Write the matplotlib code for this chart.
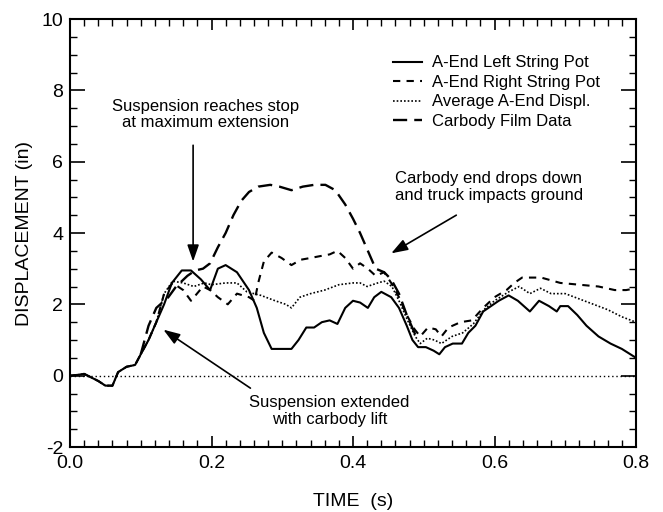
import numpy as np
import matplotlib.pyplot as plt
from matplotlib.ticker import MultipleLocator

plt.rcParams['font.family'] = ['Liberation Sans', 'DejaVu Sans']
plt.rcParams['axes.unicode_minus'] = False

# ── data ──────────────────────────────────────────────────────────────────────
early_t = [0.0, 0.01, 0.02, 0.03, 0.04, 0.05, 0.06, 0.068, 0.08, 0.092, 0.1, 0.111, 0.122]
early_d = [0.0, 0.02, 0.05, -0.05, -0.15, -0.28, -0.28, 0.1, 0.25, 0.3, 0.6, 1.0, 1.5]

left_t = early_t + [0.133, 0.144, 0.158, 0.171, 0.185, 0.198, 0.209, 0.22, 0.236, 0.253,
                    0.264, 0.274, 0.285, 0.313, 0.323, 0.334, 0.345, 0.356, 0.367, 0.378,
                    0.389, 0.4, 0.41, 0.421, 0.43, 0.44, 0.454, 0.465, 0.476, 0.484,
                    0.492, 0.503, 0.514, 0.522, 0.53, 0.541, 0.554, 0.563, 0.573, 0.584,
                    0.595, 0.606, 0.62, 0.633, 0.65, 0.663, 0.677, 0.688, 0.693, 0.704,
                    0.717, 0.73, 0.747, 0.764, 0.78, 0.8]
left_d = early_d + [2.0, 2.6, 2.95, 2.95, 2.7, 2.4, 3.0, 3.1, 2.9, 2.4,
                    1.9, 1.2, 0.75, 0.75, 1.0, 1.35, 1.35, 1.5, 1.55, 1.45,
                    1.9, 2.1, 2.05, 1.9, 2.2, 2.35, 2.2, 1.9, 1.4, 1.0,
                    0.8, 0.8, 0.7, 0.6, 0.8, 0.9, 0.9, 1.2, 1.4, 1.8,
                    1.95, 2.1, 2.25, 2.1, 1.8, 2.1, 1.95, 1.8, 1.95, 1.95,
                    1.7, 1.4, 1.1, 0.9, 0.75, 0.5]

right_t = early_t + [0.133, 0.145, 0.16, 0.171, 0.188, 0.198, 0.209, 0.223, 0.236, 0.253,
                     0.261, 0.266, 0.274, 0.285, 0.299, 0.313, 0.326, 0.34, 0.353, 0.367,
                     0.378, 0.389, 0.4, 0.41, 0.421, 0.432, 0.444, 0.454, 0.465, 0.476,
                     0.487, 0.495, 0.506, 0.517, 0.525, 0.535, 0.552, 0.568, 0.584, 0.6,
                     0.617, 0.628, 0.639, 0.666, 0.693, 0.72, 0.747, 0.77, 0.786, 0.8]
right_d = early_d + [2.3, 2.6, 2.4, 2.1, 2.5, 2.4, 2.2, 2.0, 2.3, 2.2,
                     2.1, 2.6, 3.2, 3.45, 3.3, 3.1, 3.25, 3.3, 3.35, 3.4,
                     3.5, 3.3, 3.0, 3.15, 3.0, 2.8, 2.9, 2.6, 2.2, 1.7,
                     1.3, 1.1, 1.35, 1.3, 1.1, 1.35, 1.5, 1.55, 1.9, 2.2,
                     2.4, 2.6, 2.75, 2.75, 2.6, 2.55, 2.5, 2.4, 2.4, 2.45]

avg_t = early_t + [0.133, 0.145, 0.16, 0.175, 0.19, 0.2, 0.22, 0.236, 0.25, 0.27,
                   0.29, 0.305, 0.313, 0.325, 0.34, 0.36, 0.38, 0.4, 0.41, 0.42,
                   0.435, 0.444, 0.455, 0.465, 0.476, 0.488, 0.495, 0.505, 0.515, 0.525,
                   0.54, 0.555, 0.57, 0.585, 0.6, 0.62, 0.635, 0.65, 0.665, 0.68,
                   0.7, 0.72, 0.74, 0.76, 0.78, 0.8]
avg_d = early_d + [2.3, 2.65, 2.6, 2.5, 2.6, 2.55, 2.6, 2.6, 2.35, 2.25,
                   2.1, 2.0, 1.9, 2.2, 2.3, 2.4, 2.55, 2.6, 2.6, 2.5,
                   2.6, 2.65, 2.5, 2.1, 1.6, 1.1, 0.9, 1.05, 1.0, 0.9,
                   1.1, 1.2, 1.45, 1.85, 2.1, 2.35, 2.5, 2.3, 2.45, 2.3,
                   2.3, 2.15, 2.0, 1.85, 1.65, 1.5]

film_t = [0.1, 0.111, 0.122, 0.139, 0.15, 0.166, 0.177, 0.188, 0.198, 0.209,
          0.22, 0.231, 0.242, 0.253, 0.266, 0.283, 0.296, 0.313, 0.329, 0.345,
          0.361, 0.375, 0.389, 0.4, 0.41, 0.421, 0.432, 0.444, 0.454, 0.465,
          0.476, 0.487, 0.49]
film_d = [0.6, 1.4, 1.9, 2.2, 2.5, 2.8, 2.95, 3.0, 3.15, 3.6,
          4.0, 4.5, 4.9, 5.15, 5.3, 5.35, 5.3, 5.2, 5.3, 5.35,
          5.35, 5.2, 4.8, 4.4, 4.0, 3.5, 3.0, 2.9, 2.7, 2.3,
          1.7, 1.2, 1.0]

# ── figure ────────────────────────────────────────────────────────────────────
fig = plt.figure(figsize=(6.63, 5.12), dpi=100)
ax = fig.add_axes([70 / 663, 1 - 447 / 512, 566 / 663, 428 / 512])

ax.plot([0, 0.8], [0, 0], color='black', lw=1.0, ls=(0, (1, 2)))
ax.plot(left_t, left_d, color='black', lw=1.5, label='A-End Left String Pot')
ax.plot(right_t, right_d, color='black', lw=1.5, ls=(0, (3.5, 3)), label='A-End Right String Pot')
ax.plot(avg_t, avg_d, color='black', lw=1.2, ls=(0, (1, 1.2)), label='Average A-End Displ.')
ax.plot(film_t, film_d, color='black', lw=1.7, ls=(0, (6, 3)), label='Carbody Film Data')

ax.set_xlim(0, 0.8)
ax.set_ylim(-2, 10)
ax.xaxis.set_major_locator(MultipleLocator(0.2))
ax.xaxis.set_minor_locator(MultipleLocator(0.02))
ax.yaxis.set_major_locator(MultipleLocator(2))
ax.yaxis.set_minor_locator(MultipleLocator(0.5))
ax.xaxis.set_major_formatter(plt.FuncFormatter(lambda v, p: f"{v:.1f}"))
ax.tick_params(which='both', direction='in', top=True, right=True, labelsize=14)
ax.tick_params(axis='x', which='major', length=8, width=1.2, pad=6)
ax.tick_params(axis='y', which='major', length=11, width=1.2, pad=5)
ax.tick_params(which='minor', length=5, width=1.0)
for s in ax.spines.values():
    s.set_linewidth(1.5)

ax.set_xlabel('TIME  (s)', fontsize=14, labelpad=15)
ax.set_ylabel('DISPLACEMENT (in)', fontsize=14, labelpad=6)

ax.legend(loc='upper left', bbox_to_anchor=(0.571, 0.915), frameon=False, fontsize=12,
          handlelength=1.75, handletextpad=0.55, labelspacing=0.27, borderpad=0,
          borderaxespad=0)

arrow = dict(arrowstyle='-|>,head_length=1.0,head_width=0.35', color='black', lw=1.2, shrinkA=0, shrinkB=0)
ax.annotate('', xy=(0.174, 3.2), xytext=(0.174, 6.46), arrowprops=arrow)
ax.annotate('', xy=(0.454, 3.43), xytext=(0.546, 4.5), arrowprops=arrow)
ax.annotate('', xy=(0.132, 1.29), xytext=(0.255, -0.35), arrowprops=arrow)

ax.text(0.191, 7.32, 'Suspension reaches stop\nat maximum extension', ha='center', va='center',
        fontsize=12, linespacing=1.15)
ax.text(0.459, 5.28, 'Carbody end drops down\nand truck impacts ground', ha='left', va='center',
        fontsize=12, linespacing=1.15)
ax.text(0.367, -0.98, 'Suspension extended\nwith carbody lift', ha='center', va='center',
        fontsize=12, linespacing=1.15)

fig.savefig('out.png', dpi=100)
